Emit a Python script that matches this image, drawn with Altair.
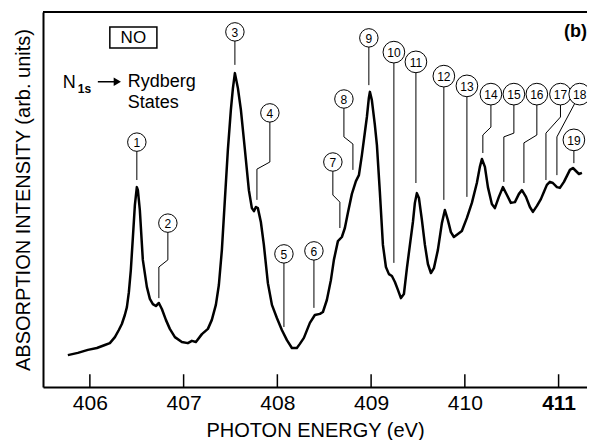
import altair as alt
import pandas as pd

# ---- spectrum (photon energy in eV, absorption intensity in arb. units) ----
energy = [405.765, 405.872, 405.979, 406.075, 406.160, 406.213, 406.267, 406.309, 406.341, 406.373,
          406.395, 406.416, 406.437, 406.459, 406.480, 406.501, 406.512, 406.533, 406.565, 406.608,
          406.640, 406.672, 406.704, 406.736, 406.768, 406.811, 406.853, 406.907, 406.981, 407.045,
          407.088, 407.131, 407.195, 407.259, 407.301, 407.344, 407.376, 407.408, 407.440, 407.472,
          407.504, 407.526, 407.547, 407.579, 407.611, 407.654, 407.696, 407.728, 407.750, 407.771,
          407.792, 407.824, 407.856, 407.899, 407.942, 407.995, 408.048, 408.102, 408.155, 408.208,
          408.240, 408.283, 408.347, 408.400, 408.454, 408.486, 408.528, 408.571, 408.603, 408.646,
          408.688, 408.720, 408.752, 408.795, 408.838, 408.870, 408.902, 408.934, 408.955, 408.976,
          408.987, 409.008, 409.040, 409.062, 409.094, 409.126, 409.158, 409.190, 409.222, 409.254,
          409.286, 409.318, 409.350, 409.382, 409.414, 409.446, 409.467, 409.488, 409.510, 409.542,
          409.574, 409.606, 409.638, 409.670, 409.712, 409.755, 409.787, 409.819, 409.851, 409.883,
          409.926, 409.968, 410.022, 410.075, 410.128, 410.160, 410.182, 410.214, 410.246, 410.288,
          410.320, 410.363, 410.406, 410.449, 410.491, 410.534, 410.577, 410.609, 410.652, 410.694,
          410.726, 410.769, 410.811, 410.843, 410.875, 410.907, 410.939, 410.982, 411.014, 411.057,
          411.089, 411.121, 411.153, 411.185, 411.217, 411.249]
intensity = [8.5, 9.1, 9.9, 10.4, 11.2, 11.7, 13.3, 15.2, 16.8, 19.2,
             21.3, 25.3, 31.2, 40.0, 48.5, 53.3, 52.5, 47.2, 33.9, 26.7,
             23.5, 22.1, 21.6, 22.4, 20.8, 17.9, 15.5, 13.3, 12.0, 11.7,
             12.3, 12.0, 14.1, 15.5, 17.9, 21.9, 27.2, 36.5, 49.9, 63.2,
             73.9, 79.7, 83.7, 79.7, 73.9, 63.2, 52.5, 47.7, 46.9, 48.0,
             47.7, 44.0, 37.9, 27.7, 21.9, 18.4, 15.2, 12.5, 10.4, 10.4,
             11.5, 13.1, 17.1, 19.2, 19.5, 20.0, 23.2, 28.5, 33.9, 38.9,
             40.0, 42.4, 46.4, 51.5, 54.9, 56.5, 61.9, 68.0, 72.0, 77.1,
             78.7, 76.5, 69.9, 64.5, 51.7, 37.9, 32.0, 30.1, 29.6, 28.0,
             25.9, 23.7, 24.8, 31.7, 37.9, 44.0, 49.1, 51.7, 50.4, 44.5,
             37.9, 32.8, 30.4, 31.7, 36.5, 43.7, 47.2, 44.5, 41.3, 40.0,
             40.8, 41.6, 45.1, 49.1, 54.4, 58.7, 60.8, 58.7, 53.3, 48.8,
             47.7, 50.7, 53.3, 51.2, 49.1, 49.3, 51.5, 52.5, 50.7, 48.0,
             46.7, 48.3, 50.1, 52.0, 53.9, 54.7, 54.4, 53.3, 53.1, 54.7,
             56.3, 57.9, 58.4, 57.6, 56.8, 57.1]

# ---- numbered Rydberg-state labels ----
label_ids = list(range(1, 20))
label_energy = [406.501, 406.832, 407.547, 407.920, 408.070, 408.390, 408.592, 408.710, 408.976, 409.243,
                409.478, 409.776, 410.022, 410.278, 410.523, 410.768, 411.020, 411.225, 411.163]
label_intensity = [65.3, 43.7, 94.7, 73.1, 35.5, 36.3, 60.0, 76.8, 93.1, 89.3,
                   86.7, 82.9, 80.3, 78.1, 78.1, 78.1, 78.1, 78.1, 65.9]
# leader line vertices below each label circle (energy, intensity)
leader_vertices = [
    [(406.501, 55.2)],
    [(406.832, 33.9), (406.736, 32.0), (406.736, 23.7)],
    [(407.547, 85.9)],
    [(407.920, 60.0), (407.782, 58.1), (407.782, 49.9)],
    [(408.070, 16.0)],
    [(408.390, 21.1)],
    [(408.592, 51.2), (408.667, 49.3), (408.667, 42.4)],
    [(408.710, 66.7), (408.806, 64.8), (408.806, 57.9)],
    [(408.976, 80.5)],
    [(409.243, 33.1)],
    [(409.478, 54.4)],
    [(409.776, 49.9)],
    [(410.022, 50.7)],
    [(410.278, 69.3), (410.192, 67.2), (410.192, 62.4)],
    [(410.523, 67.7), (410.416, 66.7), (410.416, 54.7)],
    [(410.768, 67.2), (410.630, 65.1), (410.630, 54.4)],
    [(411.020, 72.0), (410.865, 67.7), (410.865, 55.2)],
    [(410.982, 66.7), (410.982, 56.5)],
    [(411.163, 59.7)],
]

tick_values = [406, 407, 408, 409, 410, 411]

FONT = "Liberation Sans"

curve_df = pd.DataFrame({"E": energy, "I": intensity, "k": range(len(energy))})
labels_df = pd.DataFrame({"E": label_energy, "I": label_intensity, "id": label_ids})
rows = []
for lid, e0, i0, verts in zip(label_ids, label_energy, label_intensity, leader_vertices):
    pts = [(e0, i0)] + verts
    for k, (e, i) in enumerate(pts):
        rows.append({"id": lid, "k": k, "E": e, "I": i})
leader_df = pd.DataFrame(rows)
ticks_df = pd.DataFrame({"E": tick_values, "I0": [0] * 6, "I1": [3.4] * 6})

xscale = alt.Scale(domain=[405.5, 411.303], nice=False, zero=False)
yscale = alt.Scale(domain=[0, 100], nice=False, zero=False)

xaxis = alt.Axis(values=tick_values, format="d", ticks=False, tickSize=0, grid=False,
                 labelFontSize=21, labelFont=FONT, labelColor="black", labelPadding=5,
                 labelFontWeight=alt.ExprRef("datum.value == 411 ? 'bold' : 'normal'"),
                 domainColor="black", domainWidth=2,
                 title="PHOTON ENERGY (eV)", titleFont=FONT, titleFontSize=20,
                 titleFontWeight="normal", titleColor="black", titlePadding=7)
yaxis = alt.Axis(labels=False, ticks=False, tickSize=0, grid=False,
                 domainColor="black", domainWidth=2,
                 title="ABSORPTION INTENSITY (arb. units)", titleFont=FONT, titleFontSize=20,
                 titleFontWeight="normal", titleColor="black", titlePadding=10)

X = alt.X("E:Q", scale=xscale, axis=xaxis)
Y = alt.Y("I:Q", scale=yscale, axis=yaxis)

top_line = alt.Chart(pd.DataFrame({"a": [0]})).mark_rule(color="black", strokeWidth=2).encode(
    y=alt.value(0))

ticks = alt.Chart(ticks_df).mark_rule(color="black", strokeWidth=1.5).encode(
    x=alt.X("E:Q", scale=xscale, axis=xaxis),
    y=alt.Y("I0:Q", scale=yscale, axis=yaxis),
    y2="I1:Q")

curve = alt.Chart(curve_df).mark_line(color="black", strokeWidth=2.5, strokeJoin="round").encode(
    x=X, y=Y, order="k:Q")

leaders = alt.Chart(leader_df).mark_line(color="black", strokeWidth=1).encode(
    x=X, y=Y, detail="id:N", order="k:Q")

circles = alt.Chart(labels_df).mark_point(shape="circle", filled=False, fill="white",
                                          fillOpacity=1, stroke="black", strokeWidth=1,
                                          opacity=1).encode(
    x=X, y=Y,
    size=alt.condition(alt.datum.id >= 10, alt.value(470), alt.value(340)))

numbers = alt.Chart(labels_df).mark_text(font=FONT, fontSize=12, color="black",
                                         align="center", baseline="middle", dy=1).encode(
    x=X, y=Y, text="id:N")

# annotation texts
ann_box = pd.DataFrame({"E": [406.213], "E2": [406.715], "I": [90.4], "I2": [96.0]})
box = alt.Chart(ann_box).mark_rect(fill="white", stroke="black", strokeWidth=1.5).encode(
    x=X, x2="E2:Q", y=Y, y2="I2:Q")

def txt(e, i, s, size, weight="normal", align="left", baseline="alphabetic"):
    return alt.Chart(pd.DataFrame({"E": [e], "I": [i], "t": [s]})).mark_text(
        font=FONT, fontSize=size, fontWeight=weight, color="black", align=align,
        baseline=baseline).encode(x=X, y=Y, text="t:N")

t_no = txt(406.464, 93.1, "NO", 17, align="center", baseline="middle")
t_n = txt(405.712, 79.8, "N", 18)
t_1s = txt(405.872, 78.5, "1s", 12, weight="bold")
t_ryd = txt(406.405, 79.9, "Rydberg", 18)
t_states = txt(406.405, 74.4, "States", 18)
t_b = txt(411.179, 94.7, "(b)", 18, weight="bold", align="center", baseline="middle")

arrow_df = pd.DataFrame({"E": [406.085], "E2": [406.285], "I": [81.4]})
arrow_shaft = alt.Chart(arrow_df).mark_rule(color="black", strokeWidth=1.5).encode(
    x=X, x2="E2:Q", y=Y)
arrow_head = alt.Chart(pd.DataFrame({"E": [406.293], "I": [81.4]})).mark_point(
    shape="triangle-right", filled=True, color="black", size=70, opacity=1).encode(x=X, y=Y)

chart = alt.layer(
    top_line, ticks, curve, leaders, circles, numbers, box, t_no, t_n, t_1s,
    arrow_shaft, arrow_head, t_ryd, t_states, t_b
).properties(
    width=544, height=375,
    autosize=alt.AutoSizeParams(type="none"),
    padding={"left": 35, "top": 4, "right": 0, "bottom": 53},
).configure_view(stroke=None).configure(background="white")

chart.save("out.html", embed_options={"renderer": "svg", "actions": False})
